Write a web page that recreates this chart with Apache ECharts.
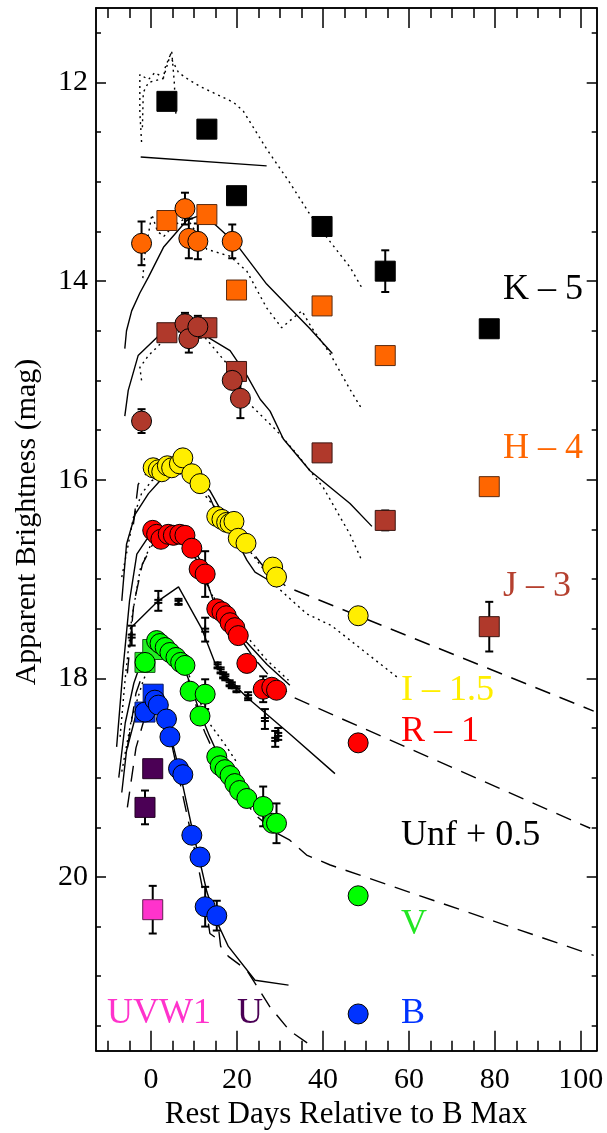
<!DOCTYPE html>
<html><head><meta charset="utf-8">
<script src="https://cdn.jsdelivr.net/npm/echarts@6/dist/echarts.min.js"></script>
<style>html,body{margin:0;padding:0;background:#fff}#c{width:607px;height:1133px}</style>
</head><body><div id="c"></div><script>
// ---------- axis ticks ----------
const xMajor = [0,20,40,60,80,100];
const xMinor = [-10,-5,5,10,15,25,30,35,45,50,55,65,70,75,85,90,95];
const yMajor = [12,14,16,18,20];
const yMinor = [11.5,12.5,13,13.5,14.5,15,15.5,16.5,17,17.5,18.5,19,19.5,20.5,21,21.5];

// ---------- data: [day, mag], errors separately ----------
const K_sq = [[3.7,12.19],[13.0,12.47],[19.9,13.14],[39.8,13.45],[54.5,13.90],[78.7,14.48]];
const K_sq_err = [0,0,0,0,0.21,0];
const H_sq = [[3.7,13.39],[13.0,13.33],[19.9,14.09],[39.8,14.25],[54.5,14.75],[78.7,16.07]];
const H_sq_err = [0,0,0,0,0,0.06];
const H_ci = [[-2.2,13.62],[7.9,13.27],[8.8,13.57],[10.9,13.60],[18.9,13.60]];
const H_ci_err = [0.22,0.16,0.2,0.18,0.17];
const J_sq = [[3.7,14.52],[13.0,14.47],[19.9,14.91],[39.8,15.73],[54.5,16.41],[78.7,17.48]];
const J_sq_err = [0,0,0,0,0.1,0.25];
const J_ci = [[-2.2,15.41],[7.9,14.43],[8.8,14.58],[10.9,14.46],[18.9,15.00],[20.8,15.18]];
const J_ci_err = [0.12,0.11,0.14,0.11,0,0.2];
const I_ci = [[0.5,15.88],[1.7,15.90],[2.5,15.92],[3.8,15.86],[4.8,15.88],[6.6,15.84],[7.4,15.78],[9.5,15.94],[11.4,16.04],[15.3,16.37],[16.5,16.40],[17.6,16.43],[18.4,16.44],[19.3,16.42],[20.3,16.59],[22.1,16.64],[28.3,16.88],[29.2,16.98],[48.2,17.37]];
const R_ci = [[0.4,16.51],[1.3,16.55],[2.3,16.60],[4.0,16.55],[5.2,16.56],[6.7,16.55],[7.9,16.56],[9.5,16.69],[11.2,16.90],[12.6,16.95],[15.3,17.30],[16.5,17.33],[17.5,17.37],[18.4,17.44],[19.5,17.49],[20.3,17.57],[22.3,17.85],[26.1,18.11],[28.1,18.09],[29.2,18.12],[48.2,18.65]];
const R_err = [[12.6,16.95,0.23],[26.1,18.11,0.13]];
const V_sq = [[-1.4,17.84],[0.4,17.71]];
const V_ci = [[-1.4,17.84],[1.3,17.62],[2.1,17.65],[3.3,17.69],[4.4,17.74],[5.8,17.79],[6.9,17.84],[7.9,17.87],[9.1,18.13],[12.6,18.16],[11.4,18.38],[15.3,18.79],[16.1,18.88],[17.2,18.92],[18.4,18.98],[19.5,19.06],[20.6,19.13],[22.3,19.21],[26.1,19.29],[28.3,19.46],[29.2,19.46],[48.2,20.19]];
const V_err = [[12.6,18.16,0.15],[26.1,19.29,0.2],[29.2,19.46,0.2]];
const B_sq = [[-1.4,18.34],[0.5,18.16]];
const B_ci = [[-1.4,18.34],[0.9,18.22],[1.7,18.27],[3.6,18.41],[4.4,18.59],[6.4,18.91],[7.4,18.97],[9.5,19.58],[11.4,19.80],[12.6,20.30],[15.3,20.39],[48.2,21.38]];
const B_err = [[12.6,20.30,0.2],[15.3,20.39,0.15]];
const U_sq = [[0.4,18.91],[-1.4,19.30]];
const U_err = [0.03,0.17];
const UVW1_sq = [[0.4,20.33]];
const UVW1_err = [0.24];
const Unf_pts = [[-4.5,17.57],[1.7,17.22],[6.4,17.23],[12.6,17.51],[15.5,17.87],[16.2,17.92],[16.8,17.97],[17.3,17.99],[18.3,18.05],[18.8,18.07],[19.9,18.11],[22.6,18.18],[26.5,18.41],[28.9,18.61],[29.6,18.56]];
const Unf_err = [0.1,0.1,0.03,0.12,0.03,0.03,0.03,0.03,0.03,0.03,0.03,0.04,0.1,0.08,0.06];

// ---------- model curves ----------
const K_solid = [[-2.4,12.75],[26.9,12.84]];
const K_dotA = [[-2.2,12.60],[-2.6,12.3],[-2.6,11.92],[-0.6,11.97],[0.9,11.90],[2.9,11.95],[4.8,11.68],[5.4,11.99],[5.8,12.32]];
const K_dotB = [[-2.0,12.45],[-1.8,12.1],[-0.6,12.0],[2.9,11.96],[3.3,11.85],[4.4,11.73],[5.2,11.80],[6.4,11.90],[8.7,11.97],[11.4,12.04],[15.3,12.12],[19.2,12.20],[21.5,12.29],[26.9,12.67],[32.3,13.01],[37.0,13.33],[40.9,13.56],[46.3,13.86],[49.1,14.07]];
const H_solid = [[-6.1,14.68],[-5.7,14.50],[-4.5,14.30],[-2.6,14.12],[-0.6,13.96],[2.9,13.66],[8.3,13.39],[10.6,13.35],[14.9,13.43],[19.9,13.63],[26.9,14.03],[37.0,14.48],[42.2,14.73]];
const H_dot = [[-1.9,13.97],[-1.5,13.75],[-0.5,13.5],[0.2,13.33],[1.5,13.5],[3.0,13.55],[5.0,13.45],[8.3,13.36],[13.0,13.68],[18.4,13.75],[22.3,13.90],[26.9,14.27],[30.4,14.47],[32.3,14.40],[35.1,14.30],[37.4,14.47],[41.5,14.72],[46.3,15.09],[48.8,15.27]];
const J_solid = [[-6.1,15.36],[-5.3,15.10],[-3.0,14.75],[1.3,14.57],[6.0,14.43],[9.0,14.45],[12.6,14.55],[18.4,14.70],[22.3,14.95],[25.4,15.19],[27.7,15.31],[30.8,15.59],[37.0,15.91],[46.3,16.24],[51.4,16.47]];
const J_dot = [[-2.2,15.0],[-2.6,14.87],[-0.6,14.75],[1.3,14.67],[4.0,14.55],[8.3,14.48],[12.6,14.57],[18.4,14.87],[22.3,15.21],[29.3,15.51],[33.9,15.74],[40.1,16.08],[46.3,16.55],[49.1,16.82]];
const I_solid = [[-6.8,17.22],[-5.7,16.65],[-3.7,16.35],[-0.6,16.14],[2.1,16.01],[6.0,15.88],[9.0,15.92],[13.7,16.11],[16.8,16.35],[19.9,16.61],[22.3,16.81],[24.2,16.93],[26.9,17.00],[30.0,17.05]];
const I_dash = [[-4.1,16.45],[-3.0,16.05],[-1.8,15.96],[2.0,15.88],[6.0,15.85],[10.0,15.98],[13.7,16.18],[14.5,16.26],[17.0,16.42],[20.0,16.58],[23.0,16.70],[27.0,16.92],[31.6,17.08],[103,18.33]];
const I_dot = [[-6.8,16.98],[-5.5,16.7],[-4.1,16.38],[-2.2,16.14],[0.2,16.01],[4.0,15.92],[8.0,15.95],[13.0,16.18],[17.5,16.42],[22.3,16.68],[29.3,17.08],[36.2,17.35],[42.0,17.47],[57.6,18.00]];
const R_solid = [[-8.0,18.69],[-6.5,17.9],[-5.0,17.22],[-3.3,16.75],[-1.0,16.6],[2.0,16.55],[6.0,16.52],[9.0,16.62],[11.4,16.81],[14.5,17.22],[17.0,17.32],[22.3,17.64],[27.0,17.86],[32.3,18.07]];
const R_dot = [[-7.2,18.59],[-6.0,18.0],[-4.5,17.4],[-2.5,16.9],[0.0,16.65],[4.0,16.55],[8.0,16.62],[11.0,16.85],[14.0,17.15],[18.0,17.40],[22.3,17.58],[27.0,17.82],[32.0,18.02]];
const R_dash = [[-5.5,17.95],[-4.0,17.25],[-2.0,16.85],[1.0,16.6],[5.0,16.55],[8.0,16.62],[10.5,16.8],[13.0,17.05],[16.0,17.3],[20.0,17.55],[24.0,17.8],[28.0,18.0],[33.1,18.19],[42.4,18.37],[102.2,19.51]];
const Unf_solid = [[-4.9,17.50],[1.7,17.22],[6.4,17.08],[11.8,17.50],[15.3,17.89],[22.3,18.19],[32.3,18.56],[42.8,18.96]];
const V_solid = [[-7.5,19.0],[-6.0,18.45],[-4.0,18.05],[-2.0,17.8],[0.5,17.65],[2.5,17.6],[5.0,17.7],[7.0,17.82],[9.1,18.05],[11.4,18.35],[13.7,18.59],[15.3,18.74],[18.4,18.97],[22.3,19.16]];
const V_dash = [[-5.5,18.7],[-3.5,18.15],[-1.5,17.9],[1.0,17.7],[4.0,17.68],[7.0,17.85],[9.5,18.1],[11.2,18.4],[12.6,18.55],[15.0,18.78],[18.0,18.97],[21.0,19.15],[23.8,19.36],[29.3,19.56],[32.3,19.63],[36.2,19.78],[41.7,19.88],[103,20.79]];
const V_dot = [[-6.8,18.94],[-4.5,18.4],[-1.8,18.02],[1.0,17.75],[4.0,17.68],[8.0,17.88],[11.0,18.2],[13.7,18.46],[17.6,18.69],[20.0,18.85]];
const B_solid = [[-6.8,19.15],[-5.7,18.73],[-3.7,18.4],[-1.4,18.22],[1.0,18.2],[3.0,18.35],[5.0,18.65],[7.0,19.0],[9.5,19.5],[11.4,19.85],[13.0,20.15],[15.3,20.45],[18.0,20.7],[24.2,21.04],[32.0,21.09]];
const B_dash = [[-5.5,19.3],[-3.5,18.7],[-1.5,18.4],[1.0,18.25],[3.0,18.35],[5.0,18.7],[7.0,19.1],[9.0,19.5],[11.0,19.9],[12.6,20.25],[13.7,20.57],[15.3,20.62],[15.8,20.55],[16.2,20.7],[18.0,20.8],[22.3,20.94],[27.7,21.31],[32.3,21.55],[36.6,21.68]];

// ---------- styling ----------
const FONT = 'Liberation Serif';
const xMin = -12.8, xMax = 103.7, yMin = 11.25, yMax = 21.75;
const SOLID = 'solid', DOT = [2, 4], DASH = [16, 10];

function line(data, type) {
  return { type:'line', data:data, showSymbol:false, symbol:'none', silent:true, z:2,
    lineStyle:{ color:'#000', width:1.4, type:type }, animation:false };
}
function pts(data, symbol, color, border) {
  return { type:'scatter', data:data, symbol:symbol, symbolSize:20, z:4, animation:false,
    itemStyle:{ color:color, borderColor:border, borderWidth:1, opacity:1 } };
}
function withErr(data, errs) {
  return data.map((d,i)=>[d[0], d[1], errs[i]]).filter(d=>d[2]>0);
}
function errSeries(data, center) {
  return { type:'custom', data:data, z:3, animation:false, silent:true,
    encode:{x:0, y:1},
    renderItem:function(params, api){
      const x=api.value(0), y=api.value(1), e=api.value(2);
      const t=api.coord([x, y-e]), b=api.coord([x, y+e]), c=api.coord([x,y]);
      const hw=4, st={stroke:'#000', lineWidth:2};
      const ch=[
        {type:'line', shape:{x1:t[0],y1:t[1],x2:b[0],y2:b[1]}, style:st},
        {type:'line', shape:{x1:t[0]-hw,y1:t[1],x2:t[0]+hw,y2:t[1]}, style:st},
        {type:'line', shape:{x1:b[0]-hw,y1:b[1],x2:b[0]+hw,y2:b[1]}, style:st}
      ];
      if (center) {
        ch.push({type:'line', shape:{x1:c[0]-4,y1:c[1]-1,x2:c[0]+4,y2:c[1]-1}, style:st});
        ch.push({type:'line', shape:{x1:c[0]-4,y1:c[1]+2,x2:c[0]+4,y2:c[1]+2}, style:st});
        ch.push({type:'line', shape:{x1:c[0],y1:c[1]-4,x2:c[0],y2:c[1]+4}, style:st});
      }
      return {type:'group', children:ch};
    }
  };
}

function xAx(pos, vals, len, labels) {
  return { type:'value', position:pos, min:xMin, max:xMax,
    axisLine:{ show:true, onZero:false, lineStyle:{color:'#000', width:1.5} },
    axisTick:{ show:true, inside:true, length:len, customValues:vals, lineStyle:{color:'#000', width:1.5} },
    axisLabel:{ show:labels, customValues:vals, margin:14, color:'#000', fontFamily:FONT, fontSize:30 },
    splitLine:{show:false} };
}
function yAx(pos, vals, len, labels) {
  return { type:'value', position:pos, min:yMin, max:yMax, inverse:true,
    axisLine:{ show:true, onZero:false, lineStyle:{color:'#000', width:1.5} },
    axisTick:{ show:true, inside:true, length:len, customValues:vals, lineStyle:{color:'#000', width:1.5} },
    axisLabel:{ show:labels, customValues:vals, margin:8, color:'#000', fontFamily:FONT, fontSize:30 },
    splitLine:{show:false} };
}

const series = [
  line(K_solid, SOLID), line(K_dotA, DOT), line(K_dotB, DOT),
  line(H_solid, SOLID), line(H_dot, DOT),
  line(J_solid, SOLID), line(J_dot, DOT),
  line(I_solid, SOLID), line(I_dash, DASH), line(I_dot, DOT),
  line(R_solid, SOLID), line(R_dot, DOT), line(R_dash, DASH),
  line(Unf_solid, SOLID),
  line(V_solid, SOLID), line(V_dash, DASH), line(V_dot, DOT),
  line(B_solid, SOLID), line(B_dash, DASH),
  errSeries(withErr(K_sq, K_sq_err)), errSeries(withErr(H_sq, H_sq_err)), errSeries(withErr(H_ci, H_ci_err)),
  errSeries(withErr(J_sq, J_sq_err)), errSeries(withErr(J_ci, J_ci_err)),
  errSeries(R_err), errSeries(V_err), errSeries(B_err),
  errSeries(withErr(U_sq, U_err)), errSeries(withErr(UVW1_sq, UVW1_err)),
  errSeries(withErr(Unf_pts, Unf_err), true),
  pts(K_sq, 'rect', '#000000', '#000000'),
  pts(H_sq, 'rect', '#ff6600', '#5a2a10'),
  pts(H_ci, 'circle', '#ff6600', '#000'),
  pts(J_sq, 'rect', '#b0392b', '#3a1510'),
  pts(J_ci, 'circle', '#b0392b', '#000'),
  pts(I_ci, 'circle', '#ffee00', '#000'),
  pts(R_ci, 'circle', '#ff0000', '#000'),
  pts(V_sq, 'rect', '#22ee22', '#1a5a1a'),
  pts(V_ci, 'circle', '#00ff00', '#000'),
  pts(B_sq, 'rect', '#0033ff', '#0a1a60'),
  pts(B_ci, 'circle', '#0033ff', '#000'),
  pts(U_sq, 'rect', '#4b0055', '#200020'),
  pts(UVW1_sq, 'rect', '#ff33cc', '#602050')
];

function txt(s, x, y, color, size, align) {
  return { type:'text', x:x, y:y, z:10,
    style:{ text:s, fill:color, fontFamily:FONT, fontSize:size||36, align:align||'left', verticalAlign:'middle' } };
}

const option = {
  backgroundColor:'#fff',
  animation:false,
  grid:{ left:96, right:10.3, top:8, bottom:82.3, containLabel:false },
  xAxis:[ xAx('bottom', xMajor, 20, true), xAx('bottom', xMinor, 10, false),
          xAx('top', xMajor, 20, false), xAx('top', xMinor, 10, false) ],
  yAxis:[ yAx('left', yMajor, 10, true), yAx('left', yMinor, 5, false),
          yAx('right', yMajor, 10, false), yAx('right', yMinor, 5, false) ],
  series: series,
  graphic:[
    { type:'text', x:27, y:522, rotation:Math.PI/2, z:10,
      style:{ text:'Apparent Brightness (mag)', fill:'#000', fontFamily:FONT, fontSize:30, align:'center', verticalAlign:'middle' } },
    txt('Rest Days Relative to B Max', 346, 1115, '#000', 31, 'center'),
    txt('K \u2013 5', 503, 290, '#000'),
    txt('H \u2013 4', 503, 449, '#ff6600'),
    txt('J \u2013 3', 503, 587, '#b5402f'),
    txt('I \u2013 1.5', 401, 691, '#ffee00'),
    txt('R \u2013 1', 401, 732, '#ff0000'),
    txt('Unf + 0.5', 401, 836, '#000'),
    txt('V', 401, 925, '#22e622'),
    txt('B', 401, 1014, '#0033ff'),
    txt('UVW1', 107, 1014, '#ff33cc'),
    txt('U', 237, 1014, '#4b0055')
  ]
};
const chart = echarts.init(document.getElementById('c'), null, {renderer:'canvas'});
chart.setOption(option);
</script></body></html>
